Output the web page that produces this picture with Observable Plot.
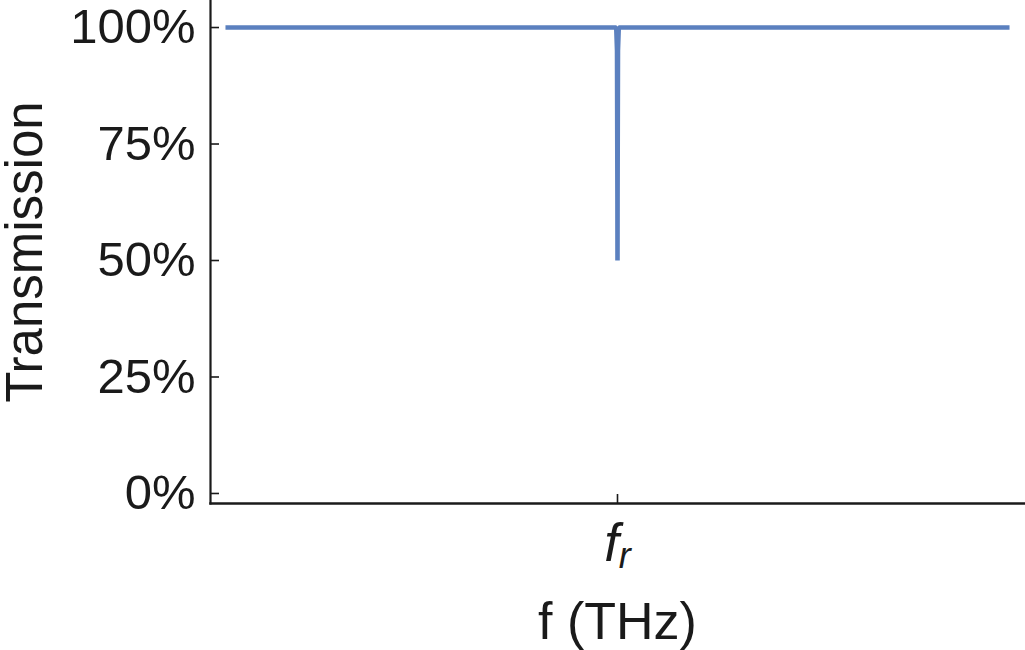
<!DOCTYPE html>
<html>
<head>
<meta charset="utf-8">
<script src="https://cdn.jsdelivr.net/npm/d3@7"></script>
<script src="https://cdn.jsdelivr.net/npm/@observablehq/plot@0.6"></script>
<style>
  html, body { margin: 0; padding: 0; background: #fff; }
  #chart svg { display: block; }
</style>
</head>
<body>
<div id="chart"></div>
<script>
// Data (relative frequency; resonance at f_r = 0.5)
const freq = [0, 0.4984, 0.4994, 0.4999, 0.5, 0.5001, 0.5006, 0.5016, 1];
const transmission = [100, 100, 95, 63, 50, 63, 95, 100, 100];
const yTicks = [0, 25, 50, 75, 100];
const xTicks = [0.5];
const xTickLabels = ["fr"];
const xLabel = "f (THz)";
const yLabel = "Transmission";

const data = freq.map((f, i) => ({f, t: transmission[i]}));
const font = "'Liberation Sans', Arial, Helvetica, sans-serif";
const ink = "#1a1a1a";

const chart = Plot.plot({
  width: 1025,
  height: 650,
  marginLeft: 210,
  marginRight: 1,
  marginTop: 0,
  marginBottom: 147,
  style: {fontFamily: font, color: ink, background: "#fff", overflow: "visible"},
  x: {domain: [-0.0191, 1.0191], ticks: xTicks, label: null},
  y: {domain: [-2.15, 105.8], ticks: yTicks, label: null},
  marks: [
    Plot.frame({anchor: "left", stroke: ink, strokeWidth: 2.2}),
    Plot.frame({anchor: "bottom", stroke: ink, strokeWidth: 2.4}),
    Plot.axisY({ticks: yTicks, tickSize: -9, tickPadding: 24, strokeWidth: 1.6,
      tickFormat: d => d + "%", fontSize: 49, label: null}),
    Plot.axisX({ticks: xTicks, tickSize: -9, tickPadding: 29, strokeWidth: 1.6,
      tickFormat: (d, i) => xTickLabels[i], fontSize: 53, fontStyle: "italic", label: null}),
    Plot.line(data, {x: "f", y: "t", stroke: "#5b80bf", strokeWidth: 4.6,
      strokeLinecap: "butt", strokeLinejoin: "bevel"}),
    Plot.text([yLabel], {text: d => d, frameAnchor: "left", dx: -169, rotate: -90,
      textAnchor: "middle", lineAnchor: "bottom", fontSize: 51, fill: ink}),
    Plot.text([xLabel], {text: d => d, frameAnchor: "bottom", dy: 135,
      lineAnchor: "bottom", fontSize: 52, fill: ink})
  ]
});

// Render subscript in the x tick label (f_r)
d3.select(chart).selectAll('g[aria-label="x-axis tick label"] text').each(function () {
  const t = d3.select(this);
  const s = t.text();
  t.text("");
  t.append("tspan").text(s[0]);
  t.append("tspan").attr("font-size", "0.68em").attr("dy", "0.2em").text(s.slice(1));
});

document.getElementById("chart").appendChild(chart);
</script>
</body>
</html>
